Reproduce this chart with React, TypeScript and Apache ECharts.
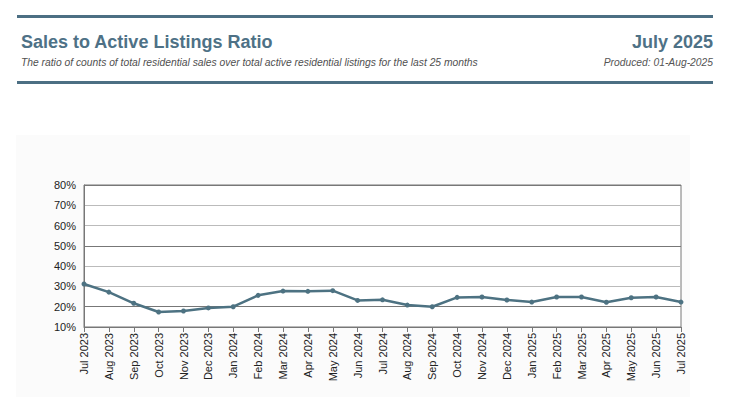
import React, { useEffect, useRef } from "react";
import * as echarts from "echarts";

const months = [
  "Jul 2023", "Aug 2023", "Sep 2023", "Oct 2023", "Nov 2023", "Dec 2023",
  "Jan 2024", "Feb 2024", "Mar 2024", "Apr 2024", "May 2024", "Jun 2024",
  "Jul 2024", "Aug 2024", "Sep 2024", "Oct 2024", "Nov 2024", "Dec 2024",
  "Jan 2025", "Feb 2025", "Mar 2025", "Apr 2025", "May 2025", "Jun 2025",
  "Jul 2025",
];
const ratio = [
  31.2, 27.2, 21.7, 17.4, 17.9, 19.4, 20.0, 25.6, 27.7, 27.6, 27.9, 23.1,
  23.4, 20.8, 20.0, 24.6, 24.8, 23.3, 22.3, 24.8, 24.8, 22.2, 24.4, 24.8,
  22.3,
];

const titleText = "Sales to Active Listings Ratio";
const subtitleText =
  "The ratio of counts of total residential sales over total active residential listings for the last 25 months";
const periodText = "July 2025";
const producedText = "Produced: 01-Aug-2025";

const FONT = "'Liberation Sans', Arial, sans-serif";

export default function App() {
  const ref = useRef<HTMLDivElement>(null);
  useEffect(() => {
    if (!ref.current) return;
    const chart = echarts.init(ref.current, undefined, { renderer: "svg" });
    chart.setOption({
      animation: false,
      backgroundColor: "#ffffff",
      textStyle: { fontFamily: FONT },
      graphic: [
        {
          type: "rect",
          silent: true,
          z: -10,
          shape: { x: 16, y: 135, width: 674, height: 262 },
          style: { fill: "#fbfbfb" },
        },
        {
          type: "line",
          shape: { x1: 17, y1: 16.5, x2: 713, y2: 16.5 },
          style: { stroke: "#4c6f83", lineWidth: 3 },
        },
        {
          type: "line",
          shape: { x1: 17, y1: 82.5, x2: 713, y2: 82.5 },
          style: { stroke: "#4c6f83", lineWidth: 3 },
        },
        {
          type: "text",
          x: 21,
          y: 33,
          style: {
            text: titleText,
            font: `bold 18px ${FONT}`,
            fill: "#4e7186",
          },
        },
        {
          type: "text",
          x: 21,
          y: 57,
          style: {
            text: subtitleText,
            font: `italic 10.3px ${FONT}`,
            fill: "#505050",
          },
        },
        {
          type: "text",
          x: 713,
          y: 33,
          style: {
            text: periodText,
            font: `bold 18px ${FONT}`,
            fill: "#4e7186",
            align: "right",
          },
        },
        {
          type: "text",
          x: 713,
          y: 57,
          style: {
            text: producedText,
            font: `italic 10.3px ${FONT}`,
            fill: "#555555",
            align: "right",
          },
        },
      ],
      grid: {
        left: 84,
        right: 49,
        top: 185,
        bottom: 72,
        show: true,
        backgroundColor: "#ffffff",
        borderColor: "#777777",
        borderWidth: 1,
      },
      xAxis: {
        type: "category",
        data: months,
        boundaryGap: false,
        axisLine: { lineStyle: { color: "#777777", width: 1 } },
        axisTick: {
          show: true,
          alignWithLabel: true,
          length: 5,
          lineStyle: { color: "#777777" },
        },
        axisLabel: {
          rotate: 90,
          interval: 0,
          fontSize: 11,
          color: "#222222",
          fontFamily: FONT,
          margin: 6,
        },
        splitLine: { show: false },
      },
      yAxis: {
        type: "value",
        min: 10,
        max: 80,
        interval: 10,
        axisLine: { show: true, lineStyle: { color: "#777777" } },
        axisTick: { show: false },
        axisLabel: {
          formatter: "{value}%",
          fontSize: 11,
          color: "#222222",
          fontFamily: FONT,
          margin: 8,
        },
        splitLine: {
          show: true,
          lineStyle: { color: ["#bbbbbb", "#777777", "#bbbbbb"], width: 1 },
        },
      },
      series: [
        {
          type: "line",
          data: ratio,
          symbol: "circle",
          symbolSize: 5,
          lineStyle: { color: "#4d7282", width: 2.5 },
          itemStyle: { color: "#4d7282" },
        },
      ],
    });
    return () => chart.dispose();
  }, []);
  return (
    <div
      ref={ref}
      style={{ position: "fixed", left: 0, top: 0, width: 730, height: 399 }}
    />
  );
}
